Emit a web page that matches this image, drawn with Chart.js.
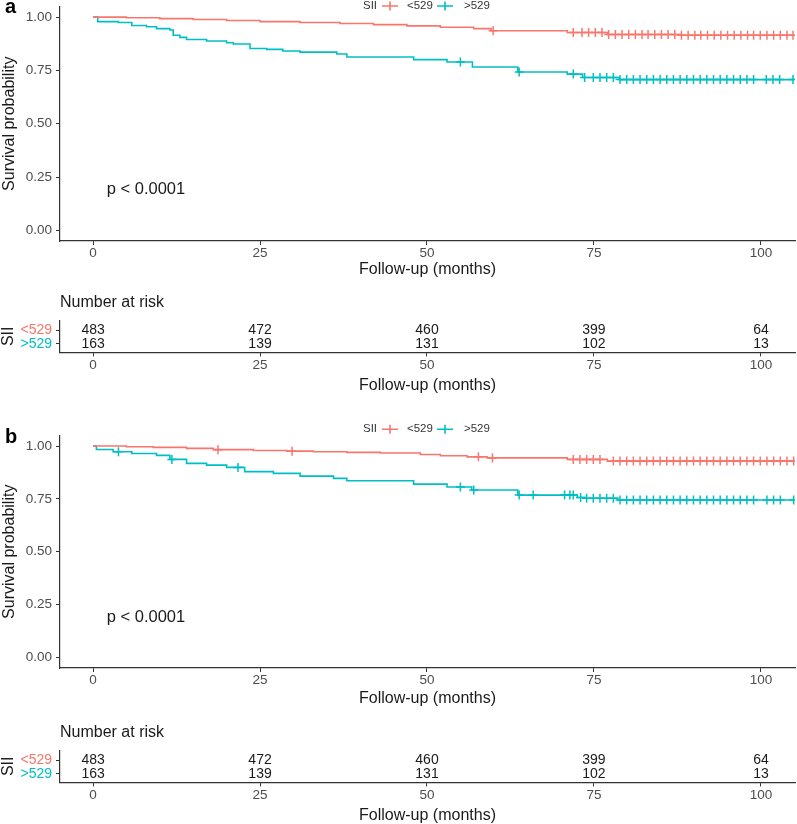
<!DOCTYPE html>
<html>
<head>
<meta charset="utf-8">
<script src="https://cdn.jsdelivr.net/npm/chart.js@4.4.1/dist/chart.umd.min.js"></script>
<style>
    body { margin: 0; background: #fff; width: 797px; height: 824px; position: relative; overflow: hidden; }
    canvas { position: absolute; left: 0; }
</style>
</head>
<body>
<canvas id="plot-a" width="797" height="282" style="top:0px"></canvas>
<canvas id="risk-a" width="797" height="110" style="top:288px"></canvas>
<canvas id="plot-b" width="797" height="290" style="top:420px"></canvas>
<canvas id="risk-b" width="797" height="110" style="top:718px"></canvas>
<script>
const FONT = '"Liberation Sans", Arial, sans-serif';
const COLOR_LOW = '#F8766D';
const COLOR_HIGH = '#00BFC4';

const groupTitle = 'SII';
const groupLabels = ['<529', '>529'];
const tickMonths = [0, 25, 50, 75, 100];
const tickSurv = [0, 0.25, 0.5, 0.75, 1];

// panel a, SII < 529
const timesA_low = [0, 5, 10, 15, 20, 25, 31, 37, 42, 47, 52, 57, 59.6, 71, 77, 88, 105];
const survA_low = [1, 0.997, 0.993, 0.989, 0.984, 0.979, 0.975, 0.970, 0.965, 0.959, 0.953, 0.946, 0.936, 0.928, 0.919, 0.915, 0.915];
const censorA_low = [59.9, 71.9, 73.2, 74.2, 75.2, 76.2, 77.2, 78.2, 79.2, 80.2, 81.2, 82.2, 83.1, 84.1, 85.1, 86.1, 87.1, 88.1,
    89.1, 90.1, 91.0, 92.0, 93.0, 94.0, 95.0, 96.0, 97.0, 98.0, 98.9, 99.9, 100.9, 101.9, 102.9, 103.9, 104.8];
// panel a, SII > 529
const timesA_high = [0, 0.7, 3.8, 5.8, 8, 9.5, 11.5, 12, 13, 14, 17, 20, 21, 23.5, 26, 28.4, 31, 36.5, 38, 48, 53, 56.8, 63.6, 71, 73.3, 78.8, 105];
const survA_high = [1, 0.979, 0.975, 0.961, 0.955, 0.946, 0.940, 0.915, 0.905, 0.895, 0.888, 0.880, 0.874, 0.853, 0.849, 0.841, 0.836, 0.827,
    0.813, 0.801, 0.790, 0.766, 0.743, 0.733, 0.717, 0.707, 0.707];
const censorA_high = [55, 63.8, 71.9, 73.6, 74.9, 75.9, 76.9, 77.9, 78.9, 79.9, 80.9, 81.9, 82.9, 83.9, 84.9, 85.9, 86.9, 87.9, 88.9,
    89.9, 90.9, 91.9, 92.9, 93.9, 94.9, 95.9, 96.9, 97.9, 98.9, 100.8, 101.8, 102.8, 104.8];

// panel b, SII < 529
const timesB_low = [0, 5, 9, 14, 18, 24, 29, 33, 38, 43, 49, 52, 56, 59, 71, 77, 105];
const survB_low = [1, 0.997, 0.994, 0.989, 0.983, 0.979, 0.976, 0.973, 0.970, 0.967, 0.960, 0.954, 0.949, 0.944, 0.937, 0.929, 0.929];
const censorB_low = [18.7, 29.8, 57.7, 59.8, 71.9, 72.9, 73.9, 74.9, 75.9, 77.9, 78.9, 79.9, 80.9, 81.9, 82.9, 83.9, 84.9, 85.9,
    86.9, 87.9, 88.9, 89.9, 90.9, 91.9, 92.9, 93.9, 94.9, 95.9, 96.9, 97.9, 98.9, 99.9, 100.9, 101.9, 102.9, 103.9, 104.9];
// panel b, SII > 529
const timesB_high = [0, 0.5, 3, 5.8, 9.5, 11.5, 14, 17, 20, 22.7, 27, 31, 36, 38, 48, 53, 56.7, 63.6, 72.5, 73.8, 78.6, 105];
const survB_high = [1, 0.984, 0.973, 0.965, 0.956, 0.937, 0.918, 0.910, 0.899, 0.879, 0.871, 0.858, 0.847, 0.836, 0.820, 0.806,
    0.792, 0.768, 0.757, 0.753, 0.745, 0.745];
const censorB_high = [3.8, 11.8, 21.7, 55, 57, 63.8, 65.9, 70.6, 71.4, 71.9, 73, 73.9, 74.9, 75.9, 76.9, 77.9, 78.9, 79.9, 80.9,
    81.9, 82.9, 83.9, 84.9, 85.9, 86.9, 87.9, 88.9, 89.9, 90.9, 91.9, 92.9, 93.9, 94.9, 95.9, 96.9, 97.9, 98.9, 100.9, 101.9, 102.9, 104.9];

// number at risk (same table under both panels)
const riskTimes = [0, 25, 50, 75, 100];
const riskLow = [483, 472, 460, 399, 64];
const riskHigh = [163, 139, 131, 102, 13];

const pValueText = 'p < 0.0001';

function survAt(times, surv, t) {
    let s = surv[0];
    for (let i = 0; i < times.length; i++) {
        if (times[i] <= t) s = surv[i];
    }
    return s;
}
function stepPoints(times, surv) {
    return times.map((t, i) => ({ x: t, y: surv[i] }));
}
function censorPoints(times, surv, cens) {
    return cens.map(t => ({ x: t, y: survAt(times, surv, t) }));
}

const axisColor = '#333333';
const tickColor = '#4d4d4d';

function xAxis(scaleHeight, titlePad) {
    return {
        type: 'linear',
        min: -4.95,
        max: 105.1,
        afterBuildTicks: s => { s.ticks = tickMonths.map(v => ({ value: v })); },
        afterFit: s => { s.height = scaleHeight; s.paddingLeft = 0; s.paddingRight = 0; },
        ticks: { font: { family: FONT, size: 13.5 }, color: tickColor, padding: 0.5, maxRotation: 0 },
        grid: { display: true, drawOnChartArea: false, drawTicks: true, tickLength: 4, color: axisColor, tickWidth: 1 },
        border: { display: true, color: axisColor, width: 1.2 },
        title: { display: true, text: 'Follow-up (months)', font: { family: FONT, size: 16 }, color: '#1a1a1a', padding: { top: 0, bottom: titlePad } }
    };
}

// legend, p-value and panel letter drawn on top of the survival plot
const kmDecor = {
    id: 'kmDecor',
    afterDraw: function (chart, args, opts) {
        const ctx = chart.ctx;
        const xs = chart.scales.x, ys = chart.scales.y;
        ctx.save();
        // panel letter
        ctx.font = 'bold 20px ' + FONT;
        ctx.fillStyle = '#000';
        ctx.textBaseline = 'alphabetic';
        ctx.textAlign = 'left';
        ctx.fillText(opts.letter, 5, opts.letterY);
        // p value
        ctx.font = '16.5px ' + FONT;
        ctx.fillStyle = '#1a1a1a';
        ctx.textBaseline = 'middle';
        ctx.fillText(pValueText, xs.getPixelForValue(2.05), ys.getPixelForValue(0.19));
        // legend
        const cx = 426.5, y = opts.legendY;
        ctx.font = '11.5px ' + FONT;
        ctx.fillStyle = '#333';
        ctx.fillText(groupTitle, cx - 63.5, y);
        ctx.fillText(groupLabels[0], cx - 19.5, y);
        ctx.fillText(groupLabels[1], cx + 37.5, y);
        [[cx - 36.5, COLOR_LOW], [cx + 18.5, COLOR_HIGH]].forEach(([kx, col]) => {
            ctx.strokeStyle = col;
            ctx.lineWidth = 1.6;
            ctx.beginPath();
            ctx.moveTo(kx - 8, y); ctx.lineTo(kx + 8, y);
            ctx.moveTo(kx, y - 4.5); ctx.lineTo(kx, y + 4.5);
            ctx.stroke();
        });
        ctx.restore();
    }
};

function drawSurvival(canvasId, p) {
    const lineStyle = { stepped: true, borderWidth: 1.6, pointRadius: 0, fill: false };
    const markStyle = { showLine: false, pointStyle: 'cross', pointRadius: 4.5, pointBorderWidth: 1.5 };
    return new Chart(document.getElementById(canvasId), {
        type: 'line',
        data: {
            datasets: [
                Object.assign({ label: groupLabels[0], data: stepPoints(p.timesLow, p.survLow), borderColor: COLOR_LOW }, lineStyle),
                Object.assign({ label: groupLabels[1], data: stepPoints(p.timesHigh, p.survHigh), borderColor: COLOR_HIGH }, lineStyle),
                Object.assign({ label: 'censor low', data: censorPoints(p.timesLow, p.survLow, p.censorLow), borderColor: COLOR_LOW, pointBorderColor: COLOR_LOW }, markStyle),
                Object.assign({ label: 'censor high', data: censorPoints(p.timesHigh, p.survHigh, p.censorHigh), borderColor: COLOR_HIGH, pointBorderColor: COLOR_HIGH }, markStyle)
            ]
        },
        options: {
            responsive: false,
            animation: false,
            events: [],
            layout: { autoPadding: false, padding: { top: p.padTop, right: 2, left: 0, bottom: 0 } },
            plugins: {
                legend: { display: false },
                tooltip: { enabled: false },
                kmDecor: { letter: p.letter, letterY: p.letterY, legendY: p.legendY }
            },
            scales: {
                x: xAxis(p.xHeight, p.titlePad),
                y: {
                    type: 'linear',
                    min: -0.05,
                    max: 1.05,
                    afterBuildTicks: s => { s.ticks = tickSurv.map(v => ({ value: v })); },
                    afterFit: s => { s.width = 60; s.paddingTop = 0; s.paddingBottom = 0; },
                    ticks: { font: { family: FONT, size: 13.5 }, color: tickColor, padding: 4, callback: v => v.toFixed(2) },
                    grid: { display: true, drawOnChartArea: false, drawTicks: true, tickLength: 4, color: axisColor },
                    border: { display: true, color: axisColor, width: 1.2 },
                    title: { display: true, text: 'Survival probability', font: { family: FONT, size: 16 }, color: '#1a1a1a', padding: { top: 0, bottom: 0 } }
                }
            }
        },
        plugins: [kmDecor]
    });
}

// numbers of the risk table, placed on the points of the hidden datasets
const riskText = {
    id: 'riskText',
    afterDatasetsDraw: function (chart) {
        const ctx = chart.ctx;
        ctx.save();
        ctx.font = '14px ' + FONT;
        ctx.fillStyle = '#1a1a1a';
        ctx.textAlign = 'center';
        ctx.textBaseline = 'middle';
        chart.data.datasets.forEach((ds, di) => {
            chart.getDatasetMeta(di).data.forEach((pt, i) => {
                ctx.fillText(String(ds.data[i].n), pt.x, pt.y);
            });
        });
        ctx.restore();
    }
};

function drawRiskTable(canvasId) {
    return new Chart(document.getElementById(canvasId), {
        type: 'line',
        data: {
            datasets: [
                { label: groupLabels[0], data: riskTimes.map((t, i) => ({ x: t, y: 1, n: riskLow[i] })), showLine: false, pointRadius: 0 },
                { label: groupLabels[1], data: riskTimes.map((t, i) => ({ x: t, y: 2, n: riskHigh[i] })), showLine: false, pointRadius: 0 }
            ]
        },
        options: {
            responsive: false,
            animation: false,
            events: [],
            layout: { autoPadding: false, padding: { top: 0, right: 2, left: 0, bottom: 0 } },
            plugins: {
                legend: { display: false },
                tooltip: { enabled: false },
                title: {
                    display: true,
                    text: 'Number at risk',
                    align: 'start',
                    fullSize: false,
                    font: { family: FONT, size: 16, weight: 'normal' },
                    color: '#1a1a1a',
                    padding: { top: 5, bottom: 8 }
                }
            },
            scales: {
                x: xAxis(45.6, 2.4),
                y: {
                    type: 'linear',
                    reverse: true,
                    min: 0.3,
                    max: 2.6,
                    afterBuildTicks: s => { s.ticks = [1, 2].map(v => ({ value: v })); },
                    afterFit: s => { s.width = 60; s.paddingTop = 0; s.paddingBottom = 0; },
                    ticks: {
                        font: { family: FONT, size: 14 },
                        color: ctx => (ctx.index === 0 ? COLOR_LOW : COLOR_HIGH),
                        padding: 4,
                        callback: v => groupLabels[v - 1]
                    },
                    grid: { display: true, drawOnChartArea: false, drawTicks: true, tickLength: 4, color: axisColor },
                    border: { display: true, color: axisColor, width: 1.2 },
                    title: { display: true, text: groupTitle, font: { family: FONT, size: 16, lineHeight: 1 }, color: '#1a1a1a', padding: { top: 1, bottom: 0 } }
                }
            }
        },
        plugins: [riskText]
    });
}

drawSurvival('plot-a', {
    timesLow: timesA_low, survLow: survA_low, censorLow: censorA_low,
    timesHigh: timesA_high, survHigh: survA_high, censorHigh: censorA_high,
    padTop: 6.5, xHeight: 41, titlePad: 2.4, letter: 'a', letterY: 13.3, legendY: 6
});
drawRiskTable('risk-a');
drawSurvival('plot-b', {
    timesLow: timesB_low, survLow: survB_low, censorLow: censorB_low,
    timesHigh: timesB_high, survHigh: survB_high, censorHigh: censorB_high,
    padTop: 15.5, xHeight: 42, titlePad: 1.4, letter: 'b', letterY: 23.3, legendY: 9.3
});
drawRiskTable('risk-b');
</script>
</body>
</html>
